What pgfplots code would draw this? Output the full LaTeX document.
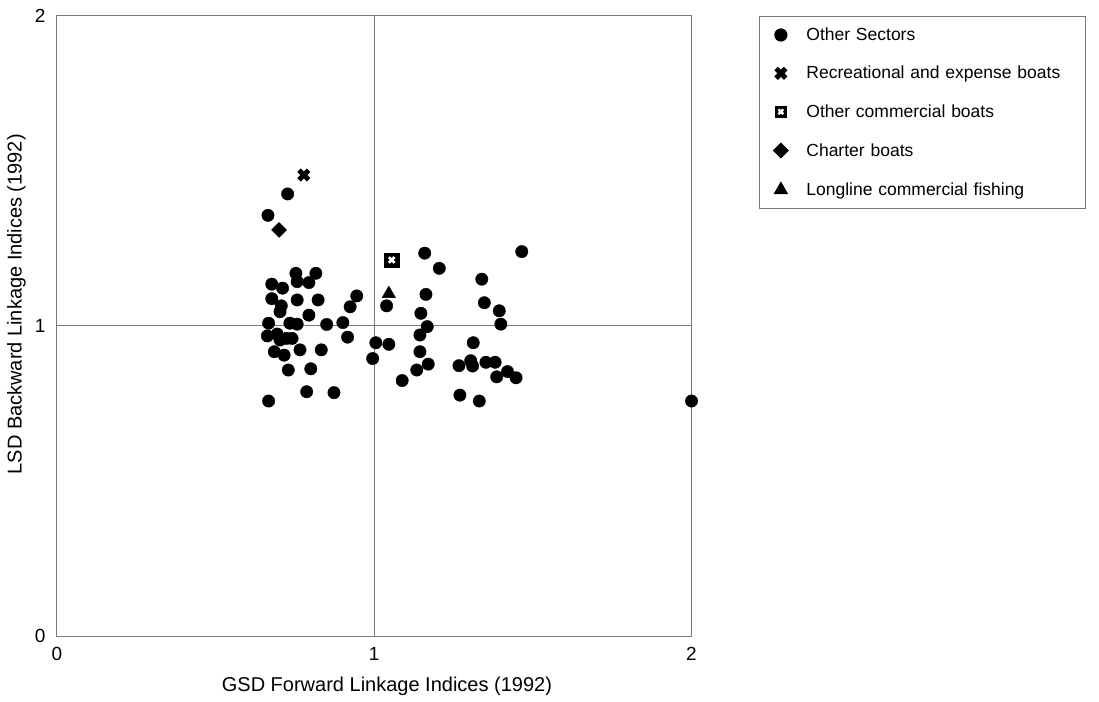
\documentclass[border=0pt]{standalone}
\usepackage{pgfplots}
\pgfplotsset{compat=1.18}
\usepackage{fontspec}
\setmainfont{Liberation Sans}
\definecolor{axgray}{RGB}{120,120,120}
\begin{document}
\begin{tikzpicture}
\begin{axis}[
  at={(0,0)}, anchor=south west,
  scale only axis, width=634.5pt, height=620pt,
  xmin=0, xmax=2, ymin=0, ymax=2,
  xtick={0,1,2}, ytick={0,1,2},
  major tick length=0pt,
  axis line style={draw=axgray, line width=1pt},
  /pgf/number format/assume math mode=true,
  tick label style={font=\fontsize{19}{22}\selectfont},
  xticklabel style={yshift=-8pt},
  yticklabel style={xshift=-8pt},
  xlabel={GSD Forward Linkage Indices (1992)},
  ylabel={LSD Backward Linkage Indices (1992)},
  label style={font=\fontsize{20}{24}\selectfont},
  xlabel style={at={(axis description cs:0.52,0)}, anchor=base, yshift=-55pt},
  ylabel style={at={(axis description cs:-0.064,0.535)}, anchor=center},
  legend style={at={(axis description cs:1,1)}, anchor=north west, xshift=67.5pt,
    draw=axgray, line width=0.8pt, font=\fontsize{17.5}{21}\selectfont,
    inner xsep=14pt, inner ysep=11.5pt, row sep=24.2pt,
    cells={anchor=west},
    nodes={inner sep=0pt},
    /tikz/every odd column/.append style={column sep=18pt},
    /tikz/every even column/.append style={text width=265pt}},
  legend cell align=left,
  legend image code/.code={\path[draw=none,fill=none] (-7pt,-7pt) rectangle (7pt,7pt); \draw[#1, only marks] plot coordinates {(0pt,0pt)};},
]
\addplot[forget plot, axgray, line width=1pt] coordinates {(1,0) (1,2)};
\addplot[forget plot, axgray, line width=1pt] coordinates {(0,1) (2,1)};

\addplot[only marks, mark=*, mark size=6.2pt, black] coordinates {
(0.753,1.170) (0.816,1.170) (0.677,1.135) (0.711,1.122) (0.757,1.143) (0.794,1.140)
(0.677,1.088) (0.707,1.065) (0.703,1.046) (0.757,1.084) (0.823,1.084) (0.945,1.097)
(0.924,1.062) (0.794,1.035) (0.667,1.009) (0.734,1.009) (0.757,1.006) (0.850,1.005)
(0.901,1.011) (0.663,0.968) (0.694,0.974) (0.703,0.955) (0.724,0.960) (0.741,0.960)
(0.916,0.964) (1.005,0.946) (0.685,0.917) (0.716,0.906) (0.766,0.923) (0.833,0.923)
(0.995,0.895) (0.729,0.858) (0.800,0.862) (0.787,0.788) (0.873,0.785) (0.667,0.758)
(0.727,1.426) (0.665,1.357) (1.159,1.235) (1.205,1.186) (1.465,1.240) (1.339,1.151)
(1.163,1.102) (1.347,1.075) (1.147,1.041) (1.394,1.049) (1.167,0.998) (1.399,1.006)
(1.144,0.971) (1.046,0.941) (1.312,0.946) (1.144,0.917) (1.170,0.877) (1.134,0.858)
(1.088,0.824) (1.267,0.872) (1.304,0.888) (1.310,0.871) (1.352,0.883) (1.381,0.883)
(1.386,0.836) (1.420,0.853) (1.447,0.833) (1.270,0.777) (1.331,0.758) (1.039,1.065)
(2.000,0.758)};
\addlegendentry{Other Sectors}

\addplot[only marks, mark=x, mark size=6.8pt, black, line width=5pt, mark options={line width=5pt, line cap=butt}] coordinates {(0.778,1.487)};
\addlegendentry{Recreational and expense boats}

\addplot[only marks, mark=square*, mark size=7.2pt, black,
  legend image code/.code={\path[draw=none,fill=none] (-7pt,-7pt) rectangle (7pt,7pt);
    \draw[only marks, mark=square*, mark size=5.8pt, black] plot coordinates {(0pt,0pt)};
    \draw[only marks, mark=x, mark size=3.3pt, white, mark options={line width=2.4pt}] plot coordinates {(0pt,0pt)};}]
  coordinates {(1.055,1.213)};
\addlegendentry{Other commercial boats}
\addplot[forget plot, only marks, mark=x, mark size=4pt, white, mark options={line width=2.8pt}] coordinates {(1.055,1.213)};

\addplot[only marks, mark=square*, mark size=5.3pt, mark options={rotate=45}, black] coordinates {(0.700,1.310)};
\addlegendentry{Charter boats}

\addplot[only marks, mark=triangle*, mark size=7.7pt, black] coordinates {(1.046,1.104)};
\addlegendentry{Longline commercial fishing}
\end{axis}
\pgfresetboundingbox
\path[use as bounding box] (-57pt,-65pt) rectangle (1042pt,636pt);
\end{tikzpicture}
\end{document}
